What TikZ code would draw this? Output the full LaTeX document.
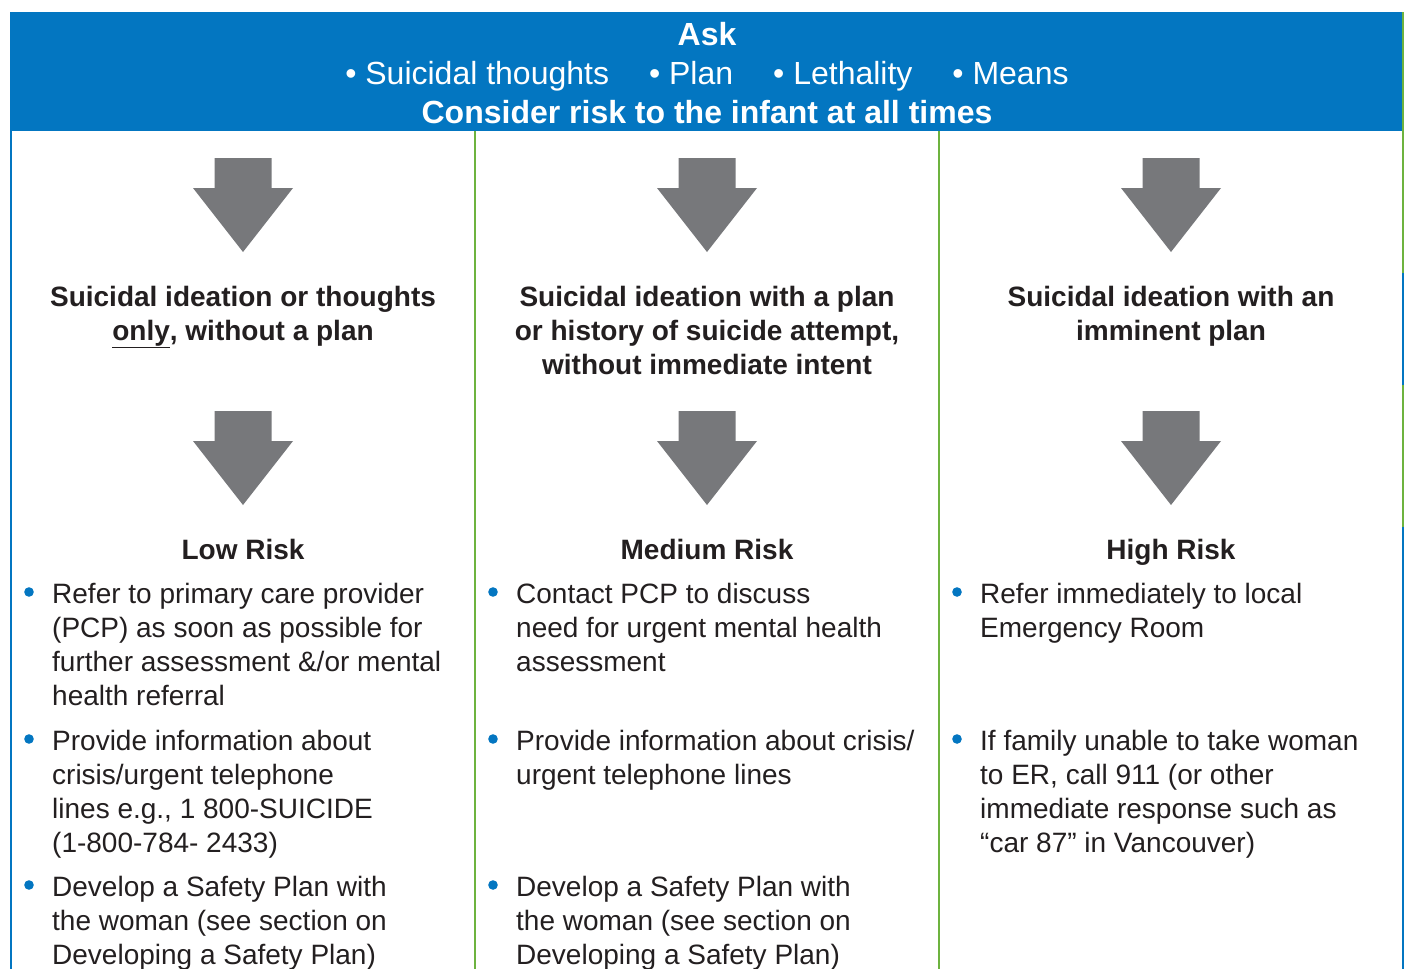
\documentclass[tikz,border=0pt]{standalone}
\usepackage{fontspec}
\setmainfont{Liberation Sans}
\usepackage{xcolor}
\usepackage{tikz}
\definecolor{bandblue}{HTML}{0376C1}
\definecolor{rulegreen}{HTML}{6DB33F}
\definecolor{arrowgray}{HTML}{77787B}
\definecolor{ink}{HTML}{231F20}

\begin{document}
\begin{tikzpicture}[x=1pt, y=-1pt,
  headline/.style={font=\fontsize{32}{39}\selectfont, text=white, inner sep=0pt, anchor=base},
  situation/.style={font=\bfseries\fontsize{28}{34}\selectfont, text=ink, align=center, inner sep=0pt, anchor=north},
  risklabel/.style={font=\bfseries\fontsize{28}{34}\selectfont, text=ink, inner sep=0pt, anchor=base},
  action/.style={font=\fontsize{28}{34}\selectfont, text=ink, align=left, inner sep=0pt, anchor=north west},
  dot/.style={fill=bandblue, draw=none}]

\useasboundingbox (0,0) rectangle (1406,969);
\fill[white] (0,0) rectangle (1406,969);

% Header band
\fill[bandblue] (10,12) rectangle (1402,131);
\node[headline, font=\bfseries\fontsize{32}{39}\selectfont] (ask) at (707,45.5) {Ask};
\node[headline] (asklist) at (707,84.5) {\textbullet\ Suicidal thoughts\hspace{40pt}\textbullet\ Plan\hspace{40pt}\textbullet\ Lethality\hspace{40pt}\textbullet\ Means};
\node[headline, font=\bfseries\fontsize{32}{39}\selectfont] (infant) at (707,123.5) {Consider risk to the infant at all times};

% Column rules
\draw[line width=2pt, color=bandblue] (11,131) -- (11,969);
\foreach \x in {475,939} {
  \draw[line width=2pt, color=rulegreen] (\x,131) -- (\x,969);
}
\draw[line width=2pt, color=rulegreen] (1403,12) -- (1403,273);
\draw[line width=2pt, color=bandblue] (1403,273) -- (1403,385);
\draw[line width=2pt, color=rulegreen] (1403,385) -- (1403,527);
\draw[line width=2pt, color=bandblue] (1403,527) -- (1403,969);

% Block arrows
\foreach \x in {243,707,1171} {
  \foreach \t in {158,411} {
    \fill[arrowgray] (\x-28.5,\t) -- (\x+28.5,\t) -- (\x+28.5,\t+30) -- (\x+50,\t+30)
      -- (\x,\t+94) -- (\x-50,\t+30) -- (\x-28.5,\t+30) -- cycle;
  }
}

% Situations
\node[situation] (sitlow) at (243,282) {\strut Suicidal ideation or thoughts\\\underline{only}, without a plan};
\node[situation] (sitmed) at (707,282) {\strut Suicidal ideation with a plan\\or history of suicide attempt,\\without immediate intent};
\node[situation] (sithigh) at (1171,282) {\strut Suicidal ideation with an\\imminent plan};

% Risk levels
\node[risklabel] (low) at (243,559) {Low Risk};
\node[risklabel] (medium) at (707,559) {Medium Risk};
\node[risklabel] (high) at (1171,559) {High Risk};

% Bullets
\foreach \x/\y in {29/592,29/739,29/885,493/592,493/739,493/885,957/592,957/739} {
  \fill[dot] (\x,\y) circle (4.8);
}

% Low risk actions
\node[action] (lowa) at (52,579) {\strut Refer to primary care provider\\(PCP) as soon as possible for\\further assessment \&/or mental\\health referral};
\node[action] (lowb) at (52,726) {\strut Provide information about\\crisis/urgent telephone\\lines e.g., 1 800-SUICIDE\\(1-800-784- 2433)};
\node[action] (lowc) at (52,872) {\strut Develop a Safety Plan with\\the woman (see section on\\Developing a Safety Plan)};

% Medium risk actions
\node[action] (meda) at (516,579) {\strut Contact PCP to discuss\\need for urgent mental health\\assessment};
\node[action] (medb) at (516,726) {\strut Provide information about crisis/\\urgent telephone lines};
\node[action] (medc) at (516,872) {\strut Develop a Safety Plan with\\the woman (see section on\\Developing a Safety Plan)};

% High risk actions
\node[action] (higha) at (980,579) {\strut Refer immediately to local\\Emergency Room};
\node[action] (highb) at (980,726) {\strut If family unable to take woman\\to ER, call 911 (or other\\immediate response such as\\“car 87” in Vancouver)};

\end{tikzpicture}
\end{document}
